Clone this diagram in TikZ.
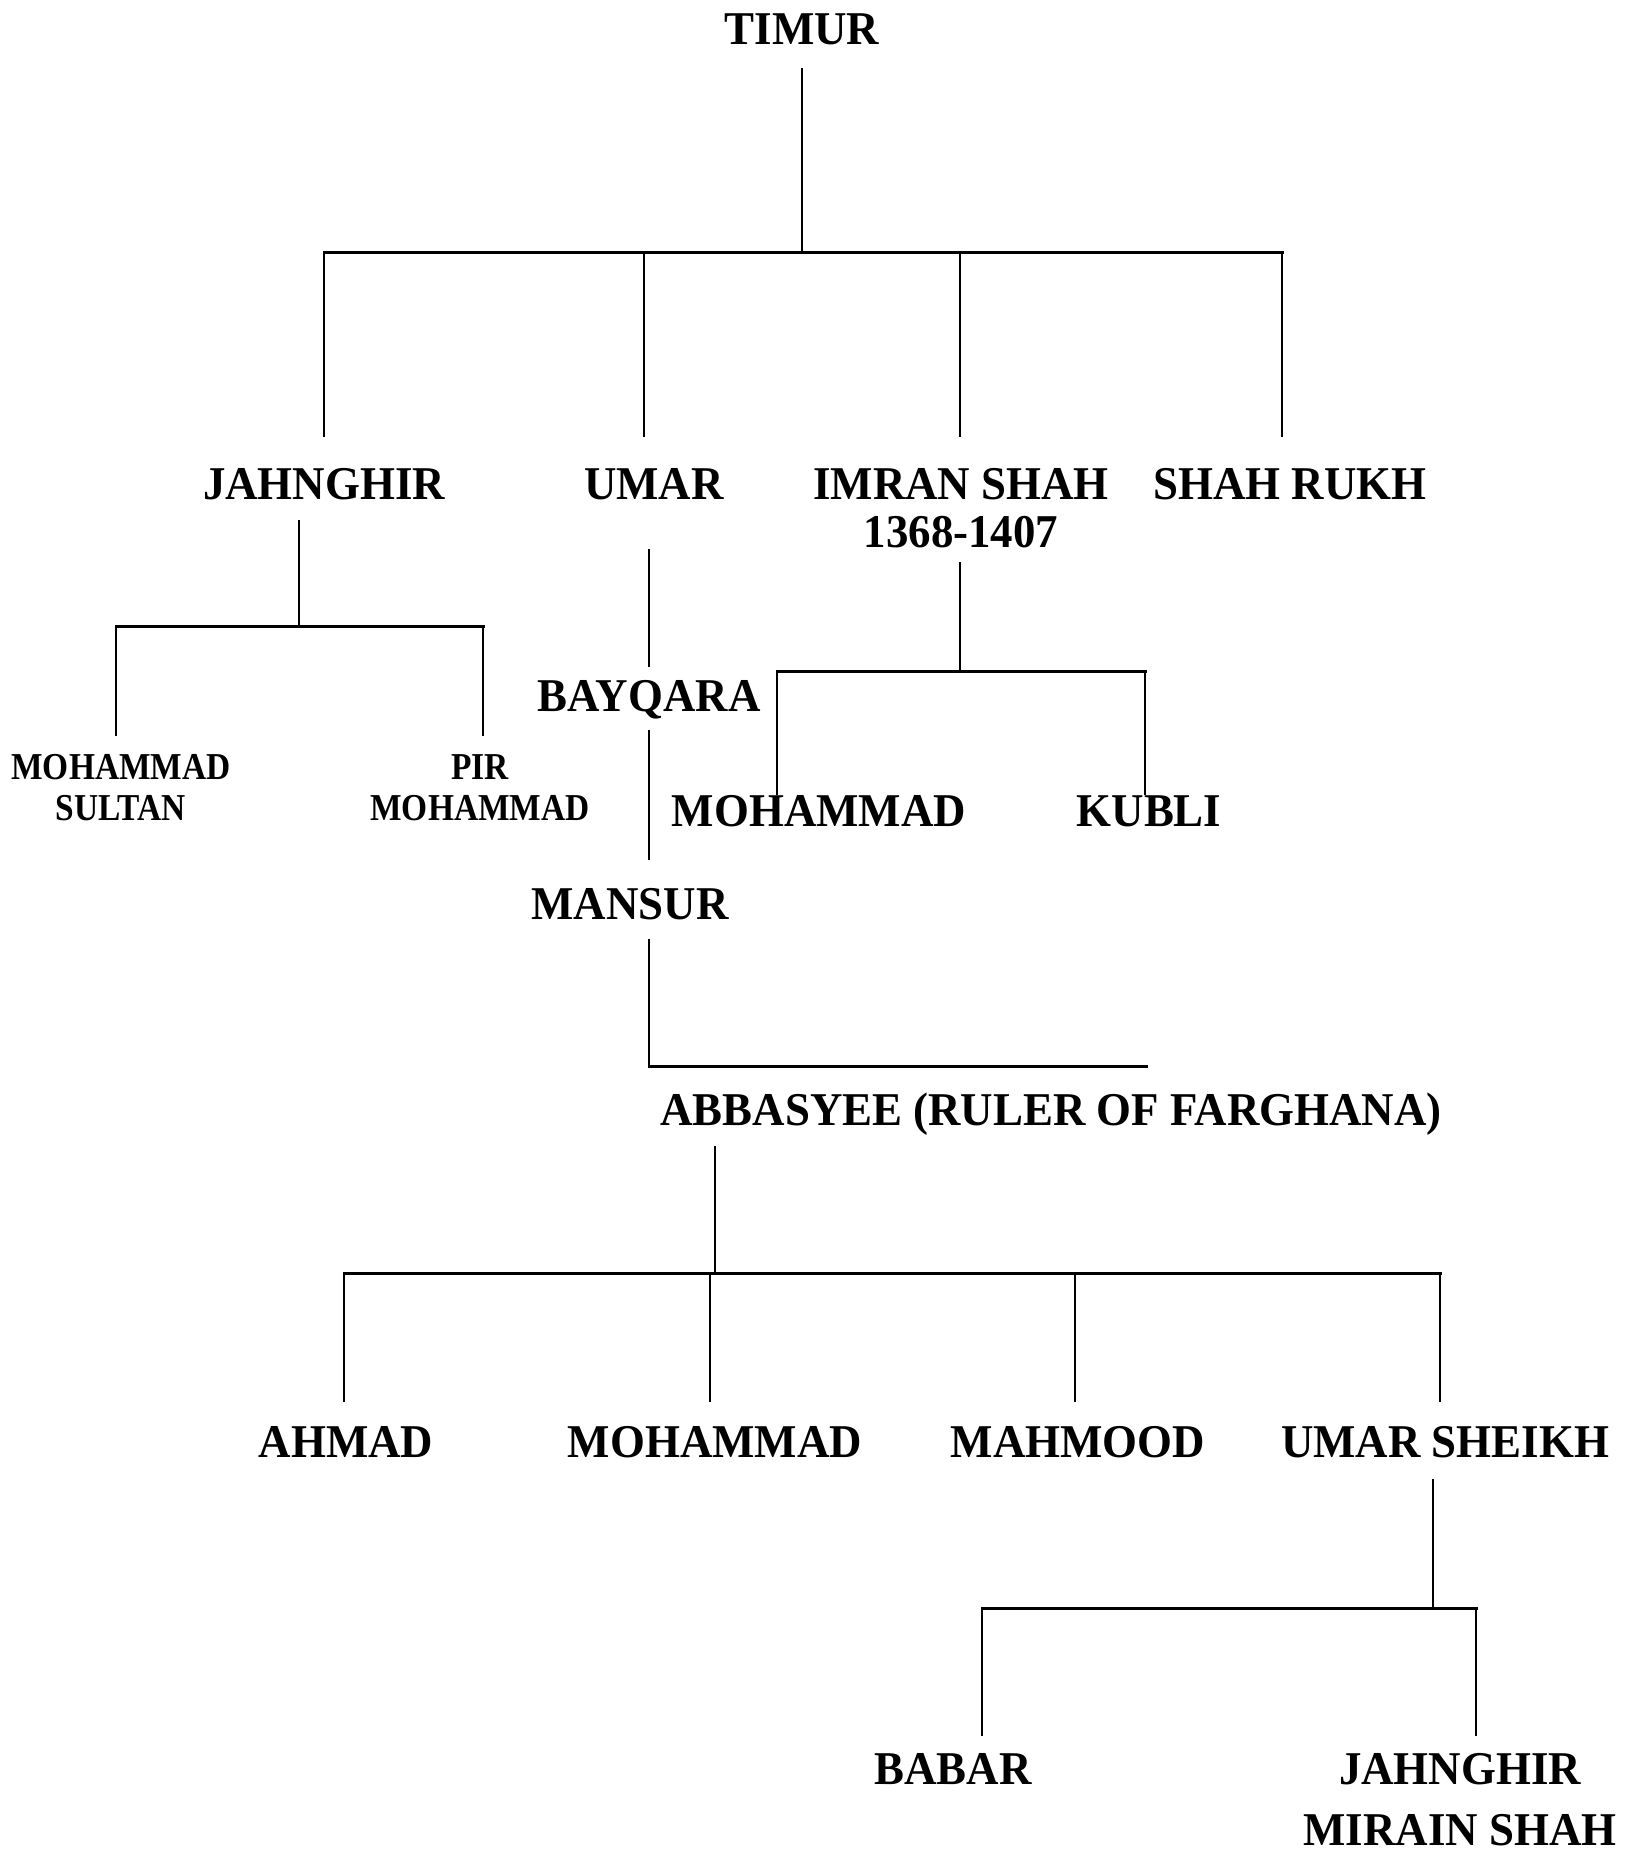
\documentclass[tikz,border=0pt]{standalone}
\usepackage{fontspec}
\newfontfamily\bigfam{Liberation Serif}[FakeStretch=0.955]
\newfontfamily\smallfam{Liberation Serif}[FakeStretch=0.88]
\begin{document}
\begin{tikzpicture}[x=0.5pt,y=-0.5pt,
  personbox/.style={anchor=base,inner sep=0pt,align=center,font=\bigfam\bfseries\fontsize{23.5}{24}\selectfont},
  smallperson/.style={anchor=base,inner sep=0pt,align=center,font=\smallfam\bfseries\fontsize{19}{20.5}\selectfont},
  vline/.style={line width=1pt,black},
  hbar/.style={line width=1.5pt,black,line cap=rect}]
\useasboundingbox[fill=white] (0,0) rectangle (1636,1852);

% names (multi-line nodes: base = baseline of last line)
\node[personbox] (timur) at (802,44) {TIMUR};
\node[personbox] (jahnghir) at (324,499) {JAHNGHIR};
\node[personbox] (umar) at (654,499) {UMAR};
\node[personbox] (imran) at (961,547) {IMRAN SHAH\\1368-1407};
\node[personbox] (shahrukh) at (1290,499) {SHAH RUKH};
\node[smallperson] (msultan) at (121,820) {MOHAMMAD\\SULTAN};
\node[smallperson] (pirm) at (480,820) {PIR\\MOHAMMAD};
\node[personbox] (bayqara) at (649,711) {BAYQARA};
\node[personbox] (mohammadA) at (819,826) {MOHAMMAD};
\node[personbox] (kubli) at (1149,826) {KUBLI};
\node[personbox] (mansur) at (630,919) {MANSUR};
\node[personbox] (abbasyee) at (1051,1125) {ABBASYEE (RULER OF FARGHANA)};
\node[personbox] (ahmad) at (346,1457) {AHMAD};
\node[personbox] (mohammadB) at (715,1457) {MOHAMMAD};
\node[personbox] (mahmood) at (1078,1457) {MAHMOOD};
\node[personbox] (umarsheikh) at (1445,1457) {UMAR SHEIKH};
\node[personbox] (babar) at (953,1784) {BABAR};
\node[personbox] (jahnghirB) at (1460,1845) {JAHNGHIR\\[6.5pt]MIRAIN SHAH};

% Timur's sons
\coordinate (tTop) at (802,68);
\coordinate (tBus) at (802,252);
\coordinate (b1L) at (324,252);
\coordinate (b1a) at (644,252);
\coordinate (b1b) at (960,252);
\coordinate (b1R) at (1282,252);
\coordinate (jTop) at (324,437);
\coordinate (uTop) at (644,437);
\coordinate (iTop) at (960,437);
\coordinate (sTop) at (1282,437);
\draw[vline] (tTop) -- (tBus);
\draw[hbar] (b1L) -- (b1R);
\draw[vline] (b1L) -- (jTop);
\draw[vline] (b1a) -- (uTop);
\draw[vline] (b1b) -- (iTop);
\draw[vline] (b1R) -- (sTop);

% Jahnghir's sons
\coordinate (jBot) at (299,520);
\coordinate (jBus) at (299,626);
\coordinate (b2L) at (116,626);
\coordinate (b2R) at (483,626);
\coordinate (msTop) at (116,736);
\coordinate (pmTop) at (483,736);
\draw[vline] (jBot) -- (jBus);
\draw[hbar] (b2L) -- (b2R);
\draw[vline] (b2L) -- (msTop);
\draw[vline] (b2R) -- (pmTop);

% Umar line
\coordinate (uBot) at (649,549);
\coordinate (bqTop) at (649,667);
\coordinate (bqBot) at (649,730);
\coordinate (mnTop) at (649,860);
\coordinate (mnBot) at (649,939);
\coordinate (mnCorner) at (649,1066);
\coordinate (abEnd) at (1146,1066);
\draw[vline] (uBot) -- (bqTop);
\draw[vline] (bqBot) -- (mnTop);
\draw[vline] (mnBot) -- (mnCorner);
\draw[hbar] (mnCorner) -- (abEnd);

% Imran's sons
\coordinate (iBot) at (960,562);
\coordinate (iBus) at (960,671);
\coordinate (b3L) at (777,671);
\coordinate (b3R) at (1145,671);
\coordinate (maTop) at (777,795);
\coordinate (kTop) at (1145,795);
\draw[vline] (iBot) -- (iBus);
\draw[hbar] (b3L) -- (b3R);
\draw[vline] (b3L) -- (maTop);
\draw[vline] (b3R) -- (kTop);

% Abbasyee's sons
\coordinate (aBot) at (715,1146);
\coordinate (aBus) at (715,1273);
\coordinate (b4L) at (344,1273);
\coordinate (b4a) at (710,1273);
\coordinate (b4b) at (1075,1273);
\coordinate (b4R) at (1440,1273);
\coordinate (ahTop) at (344,1402);
\coordinate (mbTop) at (710,1402);
\coordinate (mhTop) at (1075,1402);
\coordinate (usTop) at (1440,1402);
\draw[vline] (aBot) -- (aBus);
\draw[hbar] (b4L) -- (b4R);
\draw[vline] (b4L) -- (ahTop);
\draw[vline] (b4a) -- (mbTop);
\draw[vline] (b4b) -- (mhTop);
\draw[vline] (b4R) -- (usTop);

% Umar Sheikh's sons
\coordinate (usBot) at (1433,1479);
\coordinate (usBus) at (1433,1608);
\coordinate (b5L) at (982,1608);
\coordinate (b5R) at (1476,1608);
\coordinate (bbTop) at (982,1736);
\coordinate (jbTop) at (1476,1736);
\draw[vline] (usBot) -- (usBus);
\draw[hbar] (b5L) -- (b5R);
\draw[vline] (b5L) -- (bbTop);
\draw[vline] (b5R) -- (jbTop);
\end{tikzpicture}
\end{document}
